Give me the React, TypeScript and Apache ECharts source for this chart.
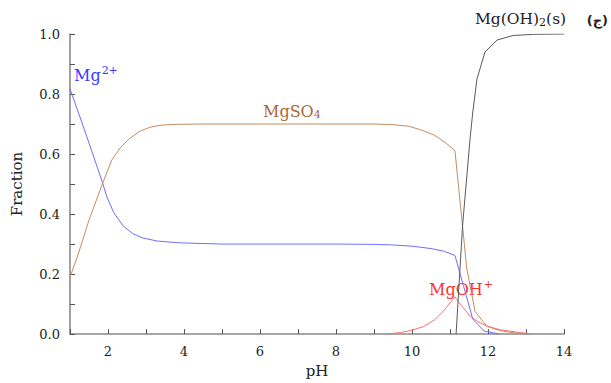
import React, { useEffect, useRef } from "react";
import * as echarts from "echarts";

const mg2: [number, number][] = [
  [1, 0.817], [1.3, 0.71], [1.6, 0.6], [1.86, 0.503], [1.97, 0.457], [2.15, 0.405], [2.4, 0.36], [2.65, 0.335],
  [2.92, 0.32], [3.3, 0.31], [3.9, 0.304], [5, 0.3], [6, 0.3], [7, 0.3], [8, 0.3], [9, 0.299], [9.5, 0.297],
  [10, 0.293], [10.5, 0.285], [10.85, 0.276], [11.13, 0.262], [11.35, 0.163], [11.6, 0.05], [11.9, 0.01], [12.3, 0.0],
];
const mgso4: [number, number][] = [
  [1, 0.19], [1.2, 0.26], [1.5, 0.38], [1.86, 0.503], [2.1, 0.58], [2.32, 0.62], [2.55, 0.65], [2.84, 0.676],
  [3.1, 0.689], [3.37, 0.696], [3.8, 0.699], [4.5, 0.7], [6, 0.7], [7, 0.7], [8, 0.7], [9, 0.7], [9.5, 0.698],
  [9.9, 0.693], [10.2, 0.682], [10.6, 0.662], [10.9, 0.636], [11.13, 0.611], [11.33, 0.36], [11.44, 0.22],
  [11.66, 0.075], [11.97, 0.026], [12.3, 0.012], [12.7, 0.004], [13.0, 0.0],
];
const mgoh: [number, number][] = [
  [9.3, 0.0], [9.7, 0.005], [10.0, 0.013], [10.3, 0.025], [10.6, 0.048], [10.85, 0.08], [11.0, 0.104], [11.13, 0.124],
  [11.3, 0.095], [11.53, 0.06], [11.75, 0.04], [11.97, 0.027], [12.3, 0.015], [12.85, 0.005], [13.2, 0.0],
];
const mgoh2: [number, number][] = [
  [11.16, 0.0], [11.33, 0.36], [11.53, 0.654], [11.6, 0.74], [11.71, 0.85], [11.92, 0.94],
  [12.24, 0.98], [12.66, 0.995], [13.2, 0.999], [14, 1.0],
];

const serif = "'DejaVu Serif', 'Liberation Serif', serif";

export default function App() {
  const ref = useRef<HTMLDivElement>(null);
  useEffect(() => {
    if (!ref.current) return;
    const chart = echarts.init(ref.current, null, { renderer: "svg" });
    const lineSeries = (name: string, data: [number, number][], color: string) => ({
      name,
      type: "line",
      data,
      symbol: "none",
      smooth: false,
      lineStyle: { color, width: 1 },
    });
    chart.setOption({
      animation: false,
      backgroundColor: "#ffffff",
      grid: { left: 70, top: 34, right: 47, bottom: 43 },
      xAxis: {
        type: "value",
        min: 1,
        max: 14,
        interval: 1,
        name: "pH",
        nameLocation: "middle",
        nameGap: 25,
        nameTextStyle: { fontFamily: serif, fontSize: 15, color: "#222" },
        axisLine: { lineStyle: { color: "#8a8a8a", width: 1.6 } },
        axisTick: { inside: true, length: 5, lineStyle: { color: "#555" } },
        axisLabel: {
          fontFamily: serif,
          fontSize: 13,
          color: "#222",
          margin: 11,
          formatter: (v: number) => (Math.round(v) % 2 === 0 ? String(Math.round(v)) : ""),
        },
        splitLine: { show: false },
      },
      yAxis: {
        type: "value",
        min: 0,
        max: 1,
        interval: 0.1,
        name: "Fraction",
        nameLocation: "middle",
        nameGap: 46,
        nameTextStyle: { fontFamily: serif, fontSize: 15, color: "#222" },
        axisLine: { show: true, lineStyle: { color: "#8a8a8a", width: 1.6 } },
        axisTick: { show: true, inside: true, length: 5, lineStyle: { color: "#555" } },
        axisLabel: {
          fontFamily: serif,
          fontSize: 13,
          color: "#222",
          margin: 10,
          formatter: (v: number) => {
            const k = Math.round(v * 10);
            return k % 2 === 0 ? (k / 10).toFixed(1) : "";
          },
        },
        splitLine: { show: false },
      },
      series: [
        lineSeries("Mg2+", mg2, "#6e6eff"),
        lineSeries("MgSO4", mgso4, "#c48b62"),
        lineSeries("MgOH+", mgoh, "#ff6e6e"),
        lineSeries("Mg(OH)2(s)", mgoh2, "#5a5a5a"),
      ],
      graphic: [
        {
          type: "text",
          left: 74,
          top: 65,
          style: {
            text: "{b|Mg}{s|2+}",
            rich: {
              b: { fontFamily: serif, fontSize: 16, fill: "#3a3aff" },
              s: { fontFamily: serif, fontSize: 11, fill: "#3a3aff", padding: [0, 0, 9, 1] },
            },
          },
        },
        {
          type: "text",
          left: 263,
          top: 103,
          style: {
            text: "{b|MgSO}{s|4}",
            rich: {
              b: { fontFamily: serif, fontSize: 16, fill: "#a8683a" },
              s: { fontFamily: serif, fontSize: 11, fill: "#a8683a", padding: [7, 0, 0, 0] },
            },
          },
        },
        {
          type: "text",
          left: 429,
          top: 279,
          style: {
            text: "{b|MgOH}{s|+}",
            rich: {
              b: { fontFamily: serif, fontSize: 16, fill: "#ff3030" },
              s: { fontFamily: serif, fontSize: 11, fill: "#ff3030", padding: [0, 0, 9, 1] },
            },
          },
        },
        {
          type: "text",
          left: 475,
          top: 11,
          style: {
            text: "{b|Mg(OH)}{s|2}{b|(s)}",
            rich: {
              b: { fontFamily: serif, fontSize: 15.5, fill: "#222" },
              s: { fontFamily: serif, fontSize: 11, fill: "#222", padding: [7, 0, 0, 0] },
            },
          },
        },
        {
          type: "text",
          right: 3,
          top: 14,
          style: {
            text: "(ج)",
            fontFamily: "'DejaVu Sans', sans-serif",
            fontSize: 13,
            fontWeight: "bold",
            fill: "#222",
          },
        },
      ],
    });
    return () => chart.dispose();
  }, []);
  return <div ref={ref} style={{ position: "absolute", left: 0, top: 0, width: 611, height: 383 }} />;
}
